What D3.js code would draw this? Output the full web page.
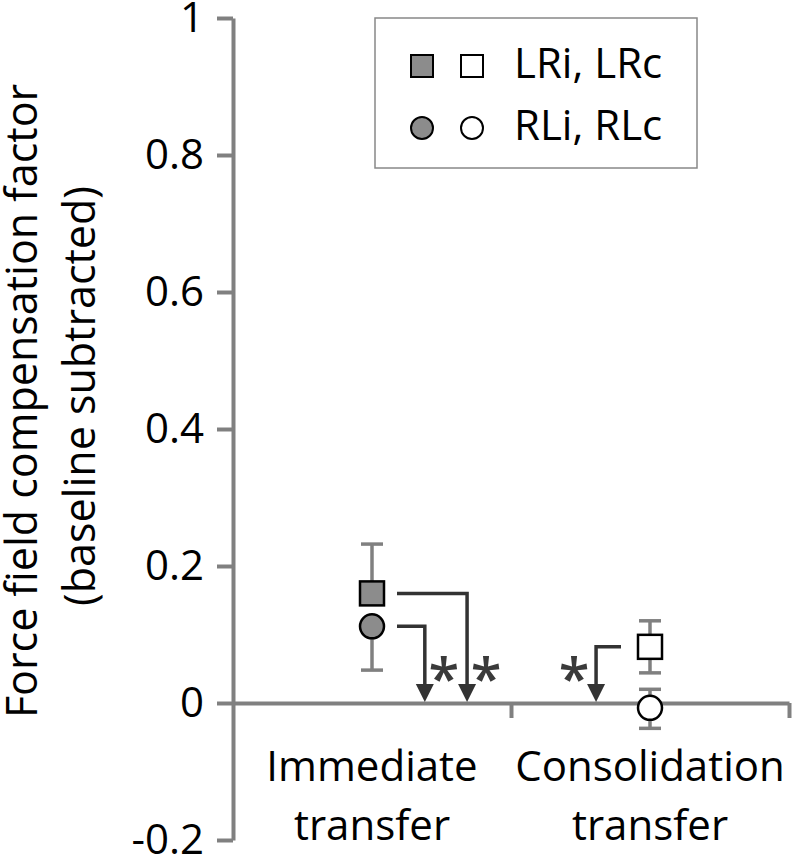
<!DOCTYPE html>
<html><head><meta charset="utf-8">
<script src="https://cdn.jsdelivr.net/npm/d3@7"></script>
<style>body{margin:0;background:#fff}svg{display:block}text{font-family:"Open Sans",Lato,sans-serif}</style>
</head><body><svg id="c" width="792" height="856"></svg>
<script>
const categories = ["Immediate transfer", "Consolidation transfer"];
const lrValues = [0.160, 0.082];
const lrErrUp = [0.072, 0.038];
const lrErrDown = [0, 0.038];
const rlValues = [0.112, -0.007];
const rlErrUp = [0, 0.027];
const rlErrDown = [0.064, 0.030];
const yTicks = [-0.2, 0, 0.2, 0.4, 0.6, 0.8, 1];
const yTickLabels = ["-0.2", "0", "0.2", "0.4", "0.6", "0.8", "1"];
const legendLabels = ["LRi, LRc", "RLi, RLc"];
const yTitle = ["Force field compensation factor", "(baseline subtracted)"];
// significance arrows: series, category index, end position as fraction of band
const sigArrows = [
  {series: "RL", cat: 0, end: 0.69},
  {series: "LR", cat: 0, end: 0.842},
  {series: "LR", cat: 1, end: 0.306}
];

const FS = 42;
const AXIS = "#808080", FILL = "#8c8c8c", DARK = "#333333";
const svg = d3.select("#c");
const pLeft = 233, pRight = 789, pTop = 18, pBottom = 840;
const y = d3.scaleLinear().domain([-0.2, 1]).range([pBottom, pTop]);
const x = d3.scaleBand().domain(categories).range([pLeft, pRight]);
const xb = d3.scaleLinear().domain([0, categories.length]).range([pLeft, pRight]);
const cx = i => x(categories[i]) + x.bandwidth() / 2;

// x axis at zero
const gx = svg.append("g").attr("transform", `translate(0,${y(0)})`)
  .call(d3.axisBottom(xb).tickValues([1, 2]).tickSize(15).tickSizeOuter(0).tickFormat(""));
gx.selectAll("path,line").attr("stroke", AXIS).attr("stroke-width", 4);

// y axis
const gy = svg.append("g").attr("transform", `translate(${pLeft},0)`)
  .call(d3.axisLeft(y).tickValues(yTicks).tickSize(16).tickSizeOuter(0).tickPadding(13)
    .tickFormat((d, i) => yTickLabels[i]));
gy.selectAll("path,line").attr("stroke", AXIS).attr("stroke-width", 4);
gy.selectAll("text").attr("font-size", FS).attr("fill", "#000").style("font-family", "'Open Sans',Lato,sans-serif");

// y title
yTitle.forEach((t, i) => {
  svg.append("text").attr("transform", `translate(${37 + i * 58},${401 - i * 5}) rotate(-90)`)
    .attr("text-anchor", "middle").attr("font-size", 43).text(t);
});

// category labels
categories.forEach((c, i) => {
  const words = c.split(" ");
  const t = svg.append("text").attr("text-anchor", "middle").attr("font-size", FS);
  words.forEach((w, j) => t.append("tspan").attr("x", cx(i)).attr("y", 781 + j * 59).text(w));
});

// significance arrows
const ms = 24;
sigArrows.forEach(a => {
  const vals = a.series === "LR" ? lrValues : rlValues;
  const yy = y(vals[a.cat]);
  const xs = a.cat === 0 ? cx(a.cat) + ms + 1 : cx(a.cat) - ms - 5;
  const xe = x(categories[a.cat]) + a.end * x.bandwidth();
  const y0 = y(0);
  svg.append("path").attr("d", `M${xs},${yy}H${xe}V${y0 - 16}`)
    .attr("fill", "none").attr("stroke", DARK).attr("stroke-width", 3.5);
  svg.append("path").attr("d", `M${xe - 9},${y0 - 19}L${xe + 9},${y0 - 19}L${xe},${y0 - 1}Z`).attr("fill", DARK);
  const tx = xe + (a.cat === 0 ? 19 : -22), ty = y0 - 36;
  svg.append("text").attr("x", tx).attr("y", ty + 31).attr("text-anchor", "middle")
    .attr("font-size", 56).attr("font-weight", 600).attr("fill", "#3a3a3a").text("*");
});

// error bars
function errBar(i, v, up, down) {
  const g = svg.append("g").attr("stroke", AXIS).attr("stroke-width", 3.5);
  const X = cx(i);
  if (up > 0) {
    g.append("line").attr("x1", X).attr("x2", X).attr("y1", y(v)).attr("y2", y(v + up));
    g.append("line").attr("x1", X - 11).attr("x2", X + 11).attr("y1", y(v + up)).attr("y2", y(v + up));
  }
  if (down > 0) {
    g.append("line").attr("x1", X).attr("x2", X).attr("y1", y(v)).attr("y2", y(v - down));
    g.append("line").attr("x1", X - 11).attr("x2", X + 11).attr("y1", y(v - down)).attr("y2", y(v - down));
  }
}
categories.forEach((c, i) => {
  errBar(i, lrValues[i], lrErrUp[i], lrErrDown[i]);
  errBar(i, rlValues[i], rlErrUp[i], rlErrDown[i]);
});
// markers (immediate = filled, consolidation = open)
categories.forEach((c, i) => {
  const fill = i === 0 ? FILL : "#fff";
  svg.append("rect").attr("x", cx(i) - ms / 2).attr("y", y(lrValues[i]) - ms / 2)
    .attr("width", ms).attr("height", ms).attr("fill", fill).attr("stroke", "#000").attr("stroke-width", 2.5);
  svg.append("circle").attr("cx", cx(i)).attr("cy", y(rlValues[i])).attr("r", ms / 2)
    .attr("fill", fill).attr("stroke", "#000").attr("stroke-width", 2.5);
});

// legend
svg.append("rect").attr("x", 375).attr("y", 18).attr("width", 322).attr("height", 150)
  .attr("fill", "#fff").attr("stroke", "#888").attr("stroke-width", 1.5);
const lm = 22;
legendLabels.forEach((lab, j) => {
  const ly = 66 + j * 62;
  [FILL, "#fff"].forEach((f, k) => {
    const lx = 422 + k * 50;
    if (j === 0) svg.append("rect").attr("x", lx - lm / 2).attr("y", ly - lm / 2).attr("width", lm).attr("height", lm)
      .attr("fill", f).attr("stroke", "#000").attr("stroke-width", 2);
    else svg.append("circle").attr("cx", lx).attr("cy", ly).attr("r", lm / 2)
      .attr("fill", f).attr("stroke", "#000").attr("stroke-width", 2);
  });
  svg.append("text").attr("x", 514).attr("y", ly + 12).attr("font-size", FS).text(lab);
});
</script></body></html>
